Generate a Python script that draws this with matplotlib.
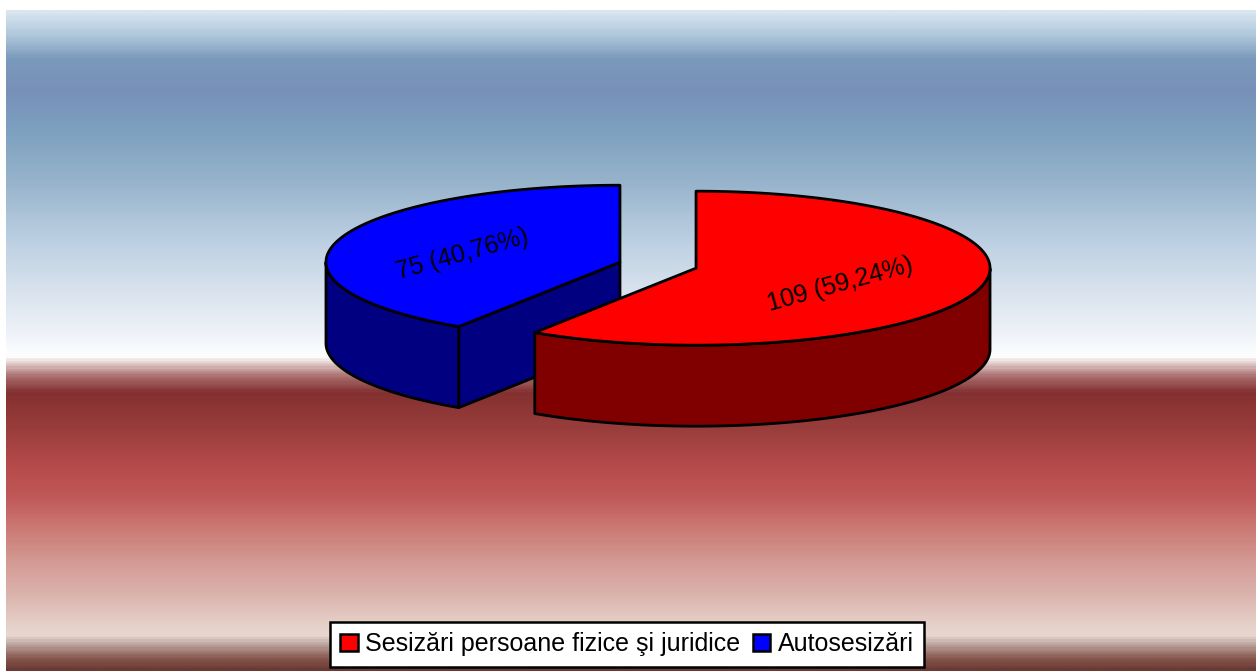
import matplotlib
matplotlib.use("Agg")
import matplotlib.pyplot as plt
import matplotlib.patches as mpatches
from matplotlib.colors import LinearSegmentedColormap
import numpy as np

plt.rcParams['font.family'] = ['Liberation Sans', 'DejaVu Sans']

# date
categorii = ['Sesizări persoane fizice şi juridice', 'Autosesizări']
valori = [109, 75]
etichete = ['109 (59,24%)', '75 (40,76%)']

culori_sus = ['#ff0000', '#0000ff']
culori_lat = ['#800000', '#000080']

W, H = 1257, 671
fig = plt.figure(figsize=(W / 100, H / 100), dpi=100)
ax = fig.add_axes([0, 0, 1, 1])
ax.set_xlim(0, W)
ax.set_ylim(H, 0)
ax.axis('off')

# fundal in degrade (albastru sus, rosu jos)
opriri = [(10, '#d8e6f0'), (33, '#b0c8dc'), (57, '#7a9abb'), (90, '#7890b8'),
          (133, '#7ea2c0'), (183, '#98b4cc'), (233, '#b8cce0'), (283, '#d4e0ec'),
          (333, '#eef2f8'), (357, '#ffffff'), (362, '#e8d6d6'), (377, '#a86c6c'),
          (393, '#833030'), (430, '#9a3e3c'), (470, '#b84c4c'), (497, '#c05858'),
          (530, '#cc7a74'), (563, '#d49a94'), (597, '#dcb4ae'), (623, '#e4cec6'),
          (637, '#e8d8d0'), (647, '#b8a098'), (660, '#885850'), (671, '#6a3a34')]
y0, y1 = opriri[0][0], opriri[-1][0]
cmap = LinearSegmentedColormap.from_list(
    'fundal', [((y - y0) / (y1 - y0), c) for y, c in opriri])
grad = np.linspace(0, 1, 600).reshape(-1, 1)
ax.imshow(grad, cmap=cmap, aspect='auto', extent=[6, 1256, y1, y0],
          interpolation='bilinear', zorder=0)

# geometrie pie 3D
cx, cy = 658, 265.2      # centrul comun
a, b = 294, 77           # semiaxe elipsa
h = 81                   # grosime
explode = 0.135
start = 90

def punct(x0, y0_, t, r=1.0, dz=0.0):
    t = np.radians(t)
    return x0 + r * a * np.cos(t), y0_ - r * b * np.sin(t) + dz

total = float(sum(valori))
unghiuri = []
t_curent = start
for v in valori:
    span = 360 * v / total
    # in sens orar: de la t_curent - span la t_curent
    unghiuri.append((t_curent - span, t_curent))
    t_curent -= span

kw = dict(edgecolor='black', linewidth=2.0, joinstyle='round')

# felia din spate (albastra) prima, apoi cea rosie
ordine = [1, 0]
for z, i in enumerate(ordine):
    ta, tb = unghiuri[i]
    mid = (ta + tb) / 2
    ox, oy = punct(0, 0, mid, explode)
    px, py = cx + ox, cy + oy
    zb = 10 + z * 10

    # fete taiate (doar cele vazute din fata)
    for t, nx in [(tb, np.cos(np.radians(tb))), (ta, -np.cos(np.radians(ta)))]:
        if nx < -1e-3:
            ex, ey = punct(px, py, t)
            poly = [(px, py), (ex, ey), (ex, ey + h), (px, py + h)]
            ax.add_patch(mpatches.Polygon(poly, closed=True, facecolor=culori_lat[i],
                                          zorder=zb, **kw))

    # peretele exterior din fata (sin t < 0)
    tt = np.linspace(ta, tb, 400)
    tt = tt[np.sin(np.radians(tt)) <= 1e-9]
    if len(tt) > 1:
        xs, ys = punct(px, py, tt)
        poly = np.vstack([np.column_stack([xs, ys]),
                          np.column_stack([xs[::-1], ys[::-1] + h])])
        ax.add_patch(mpatches.Polygon(poly, closed=True, facecolor=culori_lat[i],
                                      zorder=zb + 1, **kw))

    # fata de sus
    tt = np.linspace(ta, tb, 400)
    xs, ys = punct(px, py, tt)
    poly = np.vstack([[px, py], np.column_stack([xs, ys])])
    ax.add_patch(mpatches.Polygon(poly, closed=True, facecolor=culori_sus[i],
                                  zorder=zb + 2, **kw))

    # eticheta
    lx, ly = punct(px, py, mid, 0.535)
    ax.text(lx - 7, ly + 4, etichete[i], fontsize=18, rotation=15.5,
            ha='center', va='center', rotation_mode='anchor', zorder=50)

# legenda
handles = [mpatches.Patch(facecolor=c, edgecolor='black', linewidth=1.8)
           for c in culori_sus]
leg = fig.legend(handles, categorii, loc='center', ncol=2,
                 bbox_to_anchor=(627 / W, 1 - 644 / H), fontsize=18,
                 handlelength=0.7, handleheight=0.7, handletextpad=0.3,
                 columnspacing=0.5, borderpad=0.42, fancybox=False,
                 framealpha=1, edgecolor='black')
leg.get_frame().set_linewidth(1.8)

fig.savefig('out.png', dpi=100)
